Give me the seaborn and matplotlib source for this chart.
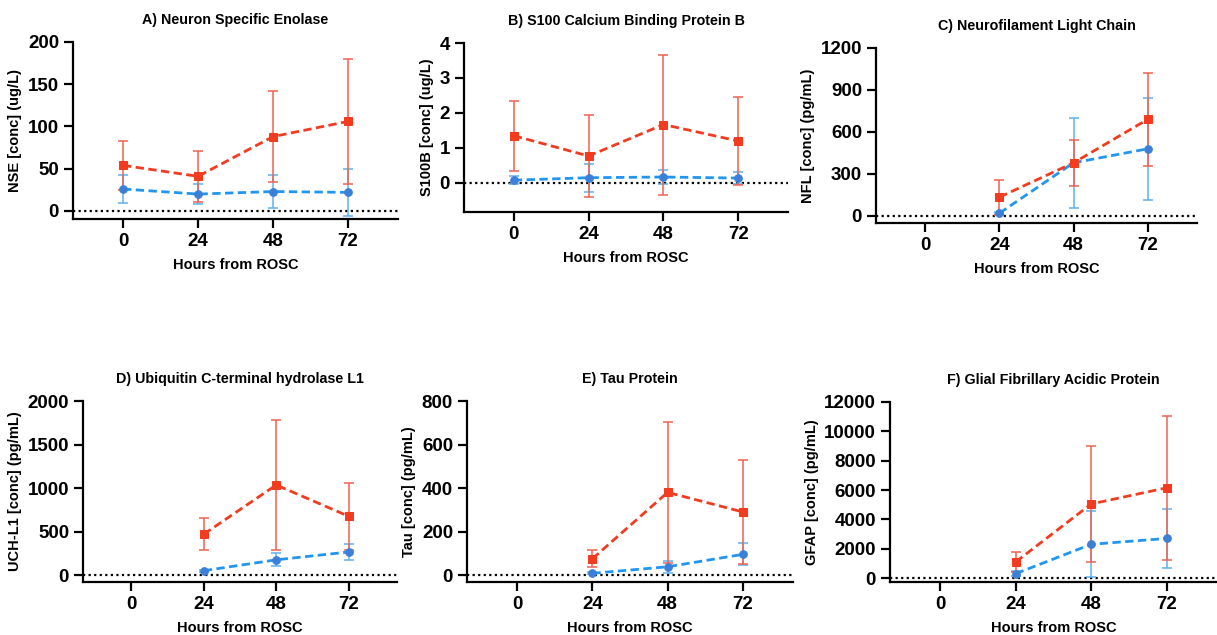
import matplotlib.pyplot as plt
import numpy as np
import pandas as pd
import seaborn as sns

sns.set_style("ticks")
plt.rcParams['font.family'] = ['Liberation Sans', 'DejaVu Sans']
plt.rcParams['font.weight'] = 'bold'
plt.rcParams['text.color'] = 'black'
plt.rcParams['axes.labelcolor'] = 'black'

# Data (mean and SD)
hours = [0, 24, 48, 72]
nan = np.nan

nse_poor = [54, 41, 88, 106]
nse_poor_sd = [29, 30, 54, 74]
nse_good = [26, 20, 23, 22]
nse_good_sd = [17, 12, 19, 28]

s100b_poor = [1.35, 0.77, 1.67, 1.20]
s100b_poor_sd = [1.0, 1.16, 2.0, 1.25]
s100b_good = [0.08, 0.15, 0.17, 0.14]
s100b_good_sd = [0.12, 0.40, 0.21, 0.16]

nfl_poor = [nan, 135, 380, 690]
nfl_poor_sd = [nan, 125, 165, 330]
nfl_good = [nan, 20, 380, 480]
nfl_good_sd = [nan, 8, 320, 365]

uchl1_poor = [nan, 470, 1035, 675]
uchl1_poor_sd = [nan, 185, 750, 385]
uchl1_good = [nan, 50, 175, 265]
uchl1_good_sd = [nan, 10, 75, 95]

tau_poor = [nan, 75, 380, 290]
tau_poor_sd = [nan, 40, 325, 240]
tau_good = [nan, 8, 38, 95]
tau_good_sd = [nan, 5, 27, 50]

gfap_poor = [nan, 1100, 5050, 6150]
gfap_poor_sd = [nan, 700, 3950, 4900]
gfap_good = [nan, 300, 2300, 2700]
gfap_good_sd = [nan, 150, 2250, 2000]

red = '#f23b1f'
red_err = '#f0624f'
blue = '#2196f0'
blue_err = '#5db2ee'
blue_marker = '#3d7fd6'

panels = [
    ("A) Neuron Specific Enolase", "NSE [conc] (ug/L)", nse_poor, nse_poor_sd, nse_good, nse_good_sd,
     (-9.5, 200), [0, 50, 100, 150, 200], (73, 42, 325, 177)),
    ("B) S100 Calcium Binding Protein B", "S100B [conc] (ug/L)", s100b_poor, s100b_poor_sd, s100b_good, s100b_good_sd,
     (-0.83, 4), [0, 1, 2, 3, 4], (464, 43, 324, 169)),
    ("C) Neurofilament Light Chain", "NFL [conc] (pg/mL)", nfl_poor, nfl_poor_sd, nfl_good, nfl_good_sd,
     (-50, 1200), [0, 300, 600, 900, 1200], (876, 48, 321, 175)),
    ("D) Ubiquitin C-terminal hydrolase L1", "UCH-L1 [conc] (pg/mL)", uchl1_poor, uchl1_poor_sd, uchl1_good, uchl1_good_sd,
     (-80, 2000), [0, 500, 1000, 1500, 2000], (83, 401, 314, 181)),
    ("E) Tau Protein", "Tau [conc] (pg/mL)", tau_poor, tau_poor_sd, tau_good, tau_good_sd,
     (-32, 800), [0, 200, 400, 600, 800], (467, 401, 326, 181)),
    ("F) Glial Fibrillary Acidic Protein", "GFAP [conc] (pg/mL)", gfap_poor, gfap_poor_sd, gfap_good, gfap_good_sd,
     (-270, 12000), [0, 2000, 4000, 6000, 8000, 10000, 12000], (890, 402, 327, 180)),
]

W, H = 1217, 635
fig = plt.figure(figsize=(W / 100, H / 100), dpi=100)

for title, ylabel, poor, poor_sd, good, good_sd, ylim, yticks, box in panels:
    x0, top, w, h = box
    ax = fig.add_axes([x0 / W, 1 - (top + h) / H, w / W, h / H])

    ax.axhline(0, color='black', linestyle=(0, (1, 1.5)), linewidth=1.6, zorder=1)

    df = pd.DataFrame({
        "hours": hours * 2,
        "value": list(good) + list(poor),
        "sd": list(good_sd) + list(poor_sd),
        "group": ["good"] * 4 + ["poor"] * 4,
    })

    for grp, col, ecol, mcol, mk in [("good", blue, blue_err, blue_marker, "o"),
                                     ("poor", red, red_err, red, "s")]:
        d = df[df["group"] == grp].dropna()
        ax.errorbar(d["hours"], d["value"], yerr=d["sd"], fmt='none', ecolor=ecol,
                    elinewidth=1.1, capsize=3.5, capthick=1.1, zorder=2)
        sns.lineplot(data=d, x="hours", y="value", ax=ax, color=col, linestyle=(0, (3, 1.6)),
                     linewidth=2.0, marker=mk, markersize=5.5, markerfacecolor=mcol,
                     markeredgecolor=mcol, zorder=3)

    ax.set_xlim(-16, 88)
    ax.set_ylim(*ylim)
    ax.set_xticks(hours)
    ax.set_yticks(yticks)
    ax.tick_params(axis='both', labelsize=13.5, width=1.6, length=6.5, color='black', labelcolor='black')
    for lab in ax.get_xticklabels() + ax.get_yticklabels():
        lab.set_fontweight('bold')
    sns.despine(ax=ax)
    for s in ['left', 'bottom']:
        ax.spines[s].set_linewidth(1.6)
        ax.spines[s].set_color('black')

    ax.set_title(title, fontsize=10.3, fontweight='bold', pad=13, color='black')
    ax.set_xlabel("Hours from ROSC", fontsize=10.5, fontweight='bold', labelpad=6)
    ax.set_ylabel(ylabel, fontsize=10.5, fontweight='bold', labelpad=4)

fig.savefig('out.png', dpi=100)
